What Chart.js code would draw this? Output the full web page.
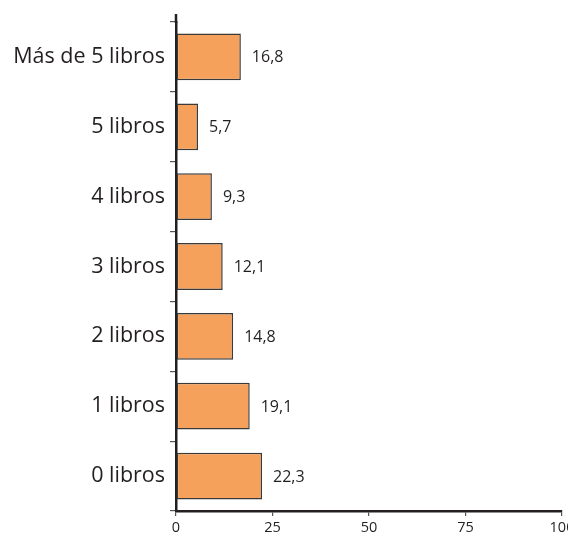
<!DOCTYPE html>
<html lang="es">
<head>
<meta charset="utf-8">
<script src="https://cdn.jsdelivr.net/npm/chart.js@4"></script>
<style>
  html, body { margin: 0; padding: 0; background: #fff; overflow: hidden; }
  #grafica { display: block; }
</style>
</head>
<body>
<canvas id="grafica" width="600" height="534"></canvas>
<script>
const categorias = ['Más de 5 libros', '5 libros', '4 libros', '3 libros', '2 libros', '1 libros', '0 libros'];
const porcentajes = [16.8, 5.7, 9.3, 12.1, 14.8, 19.1, 22.3];
const marcasEje = [0, 25, 50, 75, 100];

const colorTexto = '#231f20';

// escribe el valor de cada barra a su derecha, con coma decimal
const etiquetasValor = {
  id: 'etiquetasValor',
  afterDatasetsDraw(chart) {
    const ctx = chart.ctx;
    const meta = chart.getDatasetMeta(0);
    ctx.save();
    ctx.font = '16px "Open Sans", sans-serif';
    ctx.fillStyle = colorTexto;
    ctx.textAlign = 'left';
    ctx.textBaseline = 'middle';
    meta.data.forEach((barra, i) => {
      const texto = porcentajes[i].toFixed(1).replace('.', ',');
      ctx.fillText(texto, barra.x + 11, barra.y + 1);
    });
    ctx.restore();
  }
};

// el eje vertical sobresale un poco por arriba
const ejeArriba = {
  id: 'ejeArriba',
  afterDraw(chart) {
    const { ctx, chartArea } = chart;
    ctx.save();
    ctx.strokeStyle = colorTexto;
    ctx.lineWidth = 2.5;
    ctx.beginPath();
    ctx.moveTo(chartArea.left, chartArea.top - 8);
    ctx.lineTo(chartArea.left, chartArea.top + 1);
    ctx.stroke();
    ctx.restore();
  }
};

const ctx = document.getElementById('grafica').getContext('2d');
new Chart(ctx, {
  type: 'bar',
  data: {
    labels: categorias,
    datasets: [{
      data: porcentajes,
      backgroundColor: '#f6a15b',
      borderColor: '#3a3a3a',
      borderWidth: 1.5,
      borderSkipped: false,
      barPercentage: 0.67,
      categoryPercentage: 1
    }]
  },
  options: {
    indexAxis: 'y',
    responsive: false,
    animation: false,
    layout: { padding: { top: 22, right: 38, left: 0, bottom: 0 } },
    plugins: {
      legend: { display: false },
      tooltip: { enabled: false }
    },
    scales: {
      x: {
        min: 0,
        max: 100,
        afterBuildTicks(scale) {
          scale.ticks = marcasEje.map(v => ({ value: v }));
        },
        afterFit(scale) { scale.height = 23; },
        border: { color: colorTexto, width: 2.5 },
        grid: { drawOnChartArea: false, tickLength: 5, color: '#555', lineWidth: 1.2 },
        ticks: {
          padding: 3,
          color: colorTexto,
          font: { family: '"Open Sans", sans-serif', size: 14.5 }
        }
      },
      y: {
        afterFit(scale) { scale.width = 176; },
        border: { color: colorTexto, width: 2.5 },
        grid: { drawOnChartArea: false, offset: true, tickLength: 6, color: '#555', lineWidth: 1.2 },
        ticks: {
          padding: 5,
          color: colorTexto,
          font: { family: '"Open Sans", sans-serif', size: 21.5 }
        }
      }
    }
  },
  plugins: [etiquetasValor, ejeArriba]
});
</script>
</body>
</html>
